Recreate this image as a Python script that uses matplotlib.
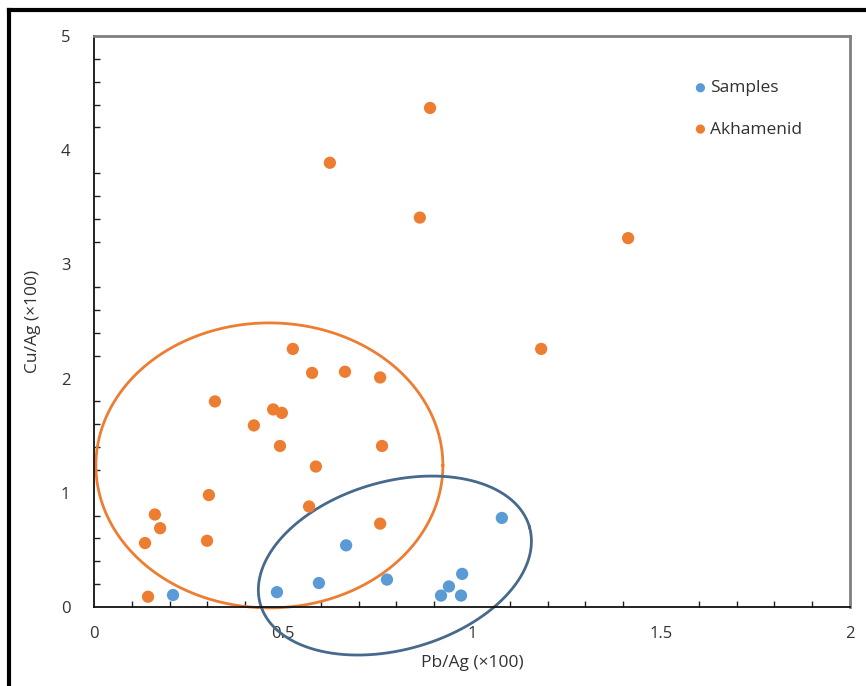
import matplotlib
matplotlib.use('Agg')
import matplotlib.pyplot as plt
import numpy as np
from matplotlib.lines import Line2D
from matplotlib.ticker import MultipleLocator

# Samples (blue)
samp_x = [0.209, 0.484, 0.595, 0.667, 0.775, 0.918, 0.939, 0.974, 0.971, 1.079]
samp_y = [0.105, 0.13, 0.21, 0.54, 0.24, 0.10, 0.18, 0.29, 0.10, 0.78]

# Akhamenid (orange)
akh_x = [0.889, 0.624, 0.862, 1.413, 1.183, 0.526, 0.577, 0.664, 0.757, 0.320,
         0.474, 0.497, 0.423, 0.492, 0.762, 0.587, 0.304, 0.569, 0.161, 0.175,
         0.757, 0.135, 0.299, 0.143]
akh_y = [4.37, 3.89, 3.41, 3.23, 2.26, 2.26, 2.05, 2.06, 2.01, 1.80,
         1.73, 1.70, 1.59, 1.41, 1.41, 1.23, 0.98, 0.88, 0.81, 0.69,
         0.73, 0.56, 0.58, 0.09]

# hand-drawn group ellipses: centre (data), semi-axes (px), tilt (deg)
orange_ell = dict(cx=0.464, cy=1.24, a=173.5, b=142.5, ang=0)
blue_ell = dict(cx=0.796, cy=0.363, a=140, b=84, ang=16)

blue = '#5B9BD5'
orange = '#ED7D31'
txt = '#404040'

plt.rcParams['font.family'] = ['Open Sans', 'DejaVu Sans']

fig = plt.figure(figsize=(8.66, 6.86), dpi=100)
ax = fig.add_axes([94/866, 1-607/686, 756/866, 571/686])

ax.scatter(samp_x, samp_y, s=78, c=blue, edgecolors='none', label='Samples', zorder=3)
ax.scatter(akh_x, akh_y, s=78, c=orange, edgecolors='none', label='Akhamenid', zorder=3)

ax.set_xlim(0, 2)
ax.set_ylim(0, 5)
ax.xaxis.set_minor_locator(MultipleLocator(0.1))
ax.yaxis.set_major_locator(MultipleLocator(1))
ax.yaxis.set_minor_locator(MultipleLocator(0.2))
ax.set_xticks([0, 0.5, 1, 1.5, 2])
ax.set_xticklabels(['0', '0.5', '1', '1.5', '2'])
ax.tick_params(axis='both', which='both', direction='in', colors='#202020',
               labelcolor='#333333', labelsize=12)
ax.tick_params(which='major', length=0)
ax.tick_params(which='minor', length=4, width=1)
ax.tick_params(axis='x', pad=14)
ax.tick_params(axis='y', pad=17)

for s in ['left', 'bottom']:
    ax.spines[s].set_color('#111111')
    ax.spines[s].set_linewidth(1.3)
for s in ['top', 'right']:
    ax.spines[s].set_color('#808080')
    ax.spines[s].set_linewidth(2)

ax.set_xlabel('Pb/Ag (×100)', fontsize=12.5, color='#333333', labelpad=9)
ax.set_ylabel('Cu/Ag (×100)', fontsize=12.5, color='#333333', labelpad=14)

# ellipses drawn in pixel-like space then mapped to data
sx = 756/2.0
sy = 571/5.0
t = np.linspace(0, 2*np.pi, 400)
for e, col in [(orange_ell, orange), (blue_ell, '#46698C')]:
    th = np.radians(e['ang'])
    u = e['a']*np.cos(t)
    v = e['b']*np.sin(t)
    ex = e['cx'] + (u*np.cos(th) - v*np.sin(th))/sx
    ey = e['cy'] + (u*np.sin(th) + v*np.cos(th))/sy
    ax.plot(ex, ey, color=col, lw=2, clip_on=False, zorder=2)

leg = ax.legend(loc='upper left', bbox_to_anchor=(0.77, 0.95), frameon=False,
                fontsize=12.5, handletextpad=0.05, labelspacing=1.45,
                markerscale=0.75, handlelength=1.0)
for t_ in leg.get_texts():
    t_.set_color('#303030')

# outer border
fig.add_artist(Line2D([9/866, 9/866], [0, 1-10/686], transform=fig.transFigure,
                      color='black', lw=3))
fig.add_artist(Line2D([9/866, 1], [1-10/686, 1-10/686], transform=fig.transFigure,
                      color='black', lw=3))

fig.savefig('out.png', dpi=100)
